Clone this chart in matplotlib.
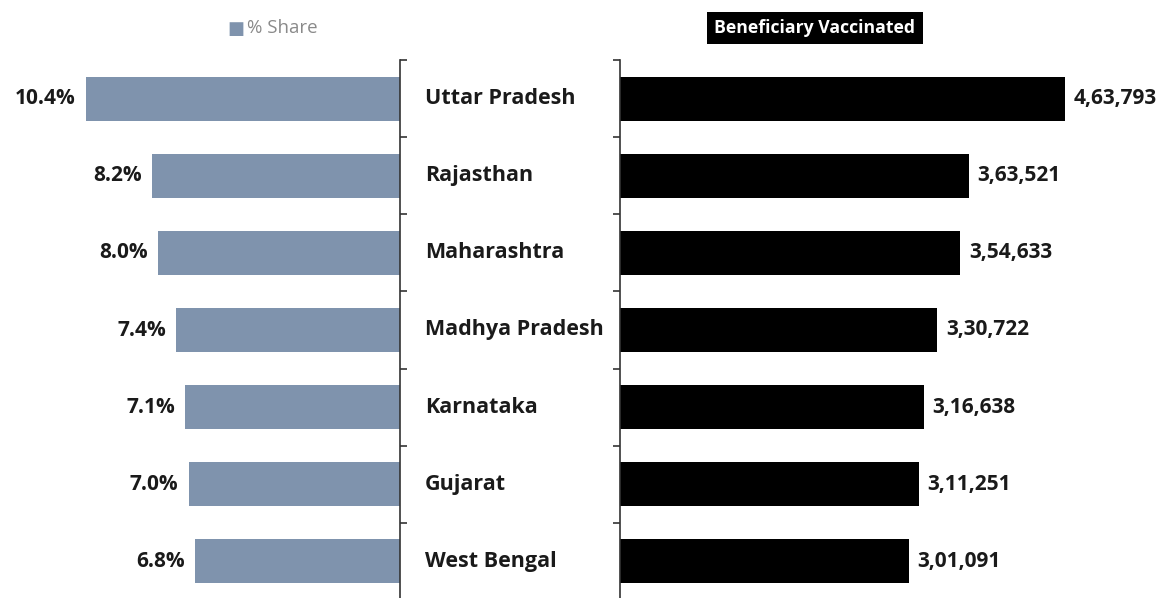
import numpy as np
import matplotlib.pyplot as plt

plt.rcParams['font.family'] = ['Open Sans', 'DejaVu Sans']

states = ['Uttar Pradesh', 'Rajasthan', 'Maharashtra', 'Madhya Pradesh',
          'Karnataka', 'Gujarat', 'West Bengal']
share = [10.4, 8.2, 8.0, 7.4, 7.1, 7.0, 6.8]
vaccinated = [463793, 363521, 354633, 330722, 316638, 311251, 301091]
vacc_labels = ['4,63,793', '3,63,521', '3,54,633', '3,30,722',
               '3,16,638', '3,11,251', '3,01,091']

W, H = 1167, 598
fig = plt.figure(figsize=(W / 100, H / 100), dpi=100)
fig.patch.set_facecolor('white')

y = np.arange(len(states))
bar_h = 0.57
grey = '#7f93ad'
txt = '#1a1a1a'

# axes positions in pixels
top_px, bot_px = 60, 600
ax_b = 1 - bot_px / H
ax_h = (bot_px - top_px) / H

# left panel: % share, bars grow to the left
a1 = fig.add_axes([0, ax_b, 400 / W, ax_h])
a1.barh(y, share, height=bar_h, color=grey)
a1.set_xlim(13.24, 0)
a1.set_ylim(len(states) - 0.5, -0.5)
for i, v in enumerate(share):
    a1.text(v + 0.33, i, '{:.1f}%'.format(v), ha='right', va='center',
            fontsize=15, fontweight='bold', color=txt)

# right panel: beneficiaries vaccinated
a2 = fig.add_axes([620 / W, ax_b, 547 / W, ax_h])
a2.barh(y, vaccinated, height=bar_h, color='black')
a2.set_xlim(0, 570000)
a2.set_ylim(len(states) - 0.5, -0.5)
for i, v in enumerate(vaccinated):
    a2.text(v + 9000, i, vacc_labels[i], ha='left', va='center',
            fontsize=15, fontweight='bold', color=txt)

bounds = np.arange(len(states) + 1) - 0.5
for ax, side in ((a1, 'right'), (a2, 'left')):
    for s in ax.spines.values():
        s.set_visible(False)
    ax.spines[side].set_visible(True)
    ax.spines[side].set_color('#333333')
    ax.spines[side].set_linewidth(1.2)
    ax.set_xticks([])
    ax.set_yticks(bounds)
    ax.set_yticklabels([])
    ax.tick_params(axis='y', length=5, width=1.2, color='#333333',
                   direction='out', left=(side == 'left'), right=(side == 'right'))
    ax.patch.set_alpha(0)

# state names in the gap
for i, s in enumerate(states):
    fig.text(425 / W, 1 - (top_px + (i + 0.5) * (bot_px - top_px) / len(states)) / H, s,
             ha='left', va='center', fontsize=15.5, fontweight='bold', color=txt)

# legend for left panel
fig.text(227 / W, 1 - 29 / H, '\u25a0', ha='left', va='center', fontsize=13, color=grey)
fig.text(247 / W, 1 - 28 / H, '% Share', ha='left', va='center', fontsize=13.5, color='#8a8a8a')

# title box for right panel
fig.text(815 / W, 1 - 28 / H, 'Beneficiary Vaccinated', ha='center', va='center',
         fontsize=12.7, fontweight='bold', color='white',
         bbox=dict(boxstyle='square,pad=0.4', facecolor='black', edgecolor='none'))

fig.savefig('out.png', dpi=100)
